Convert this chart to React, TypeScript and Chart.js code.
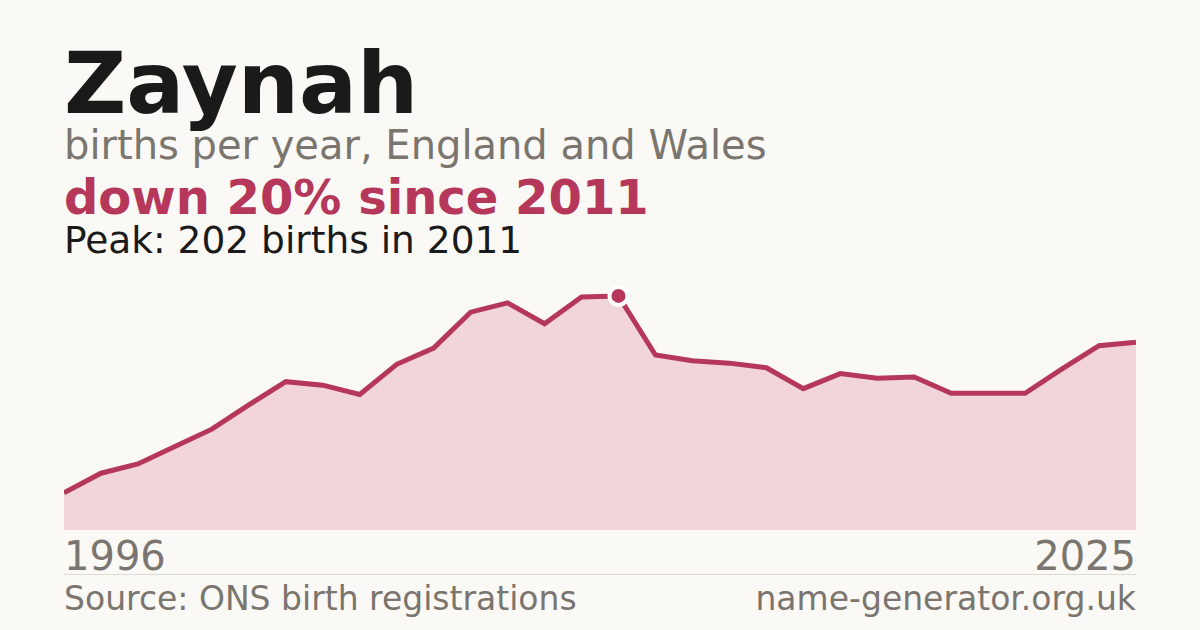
import React, { useEffect, useRef } from 'react'
import { Chart, registerables } from 'chart.js'

Chart.register(...registerables)

const years = ['1996', '1997', '1998', '1999', '2000', '2001', '2002', '2003', '2004', '2005', '2006', '2007', '2008', '2009', '2010', '2011', '2012', '2013', '2014', '2015', '2016', '2017', '2018', '2019', '2020', '2021', '2022', '2023', '2024', '2025']
const births = [32, 49, 57, 72, 87, 108, 128, 125, 117, 143, 157, 188, 196, 178, 201, 202, 151, 146, 144, 140, 122, 135, 131, 132, 118, 118, 118, 139, 159, 162]
const peakIndex = 15

const CRIMSON = '#b5385a'
const FILL = '#f2d5da'
const BG = '#faf9f5'
const GREY = '#7a756e'
const FONT = '"DejaVu Sans", sans-serif'

function AreaChart() {
  const canvasRef = useRef<HTMLCanvasElement>(null)
  const chartRef = useRef<Chart | null>(null)

  useEffect(() => {
    if (!canvasRef.current) return
    chartRef.current?.destroy()
    chartRef.current = new Chart(canvasRef.current, {
      type: 'line',
      data: {
        labels: years,
        datasets: [{
          data: births,
          borderColor: CRIMSON,
          borderWidth: 5,
          backgroundColor: FILL,
          fill: 'origin',
          tension: 0,
          clip: { left: 0, right: 0, top: false, bottom: 0 } as any,
          pointRadius: births.map((_, i) => (i === peakIndex ? 9 : 0)),
          pointBackgroundColor: CRIMSON,
          pointBorderColor: '#ffffff',
          pointBorderWidth: 4,
        }],
      },
      options: {
        animation: false,
        responsive: true,
        maintainAspectRatio: false,
        layout: { padding: 0 },
        plugins: { legend: { display: false }, tooltip: { enabled: false } },
        scales: {
          x: { display: false, offset: false },
          y: { display: false, min: 0, max: 233 },
        },
      },
    })
    return () => chartRef.current?.destroy()
  }, [])

  return (
    <div style={{ position: 'absolute', left: 64, top: 260, width: 1072, height: 270 }}>
      <canvas ref={canvasRef} />
    </div>
  )
}

function Text({ top, left, right, size, color, bold, children }: any) {
  return (
    <div style={{
      position: 'absolute', top, left, right, fontSize: size, lineHeight: 1, color,
      fontWeight: bold ? 'bold' : 'normal', fontFamily: FONT, whiteSpace: 'nowrap',
    }}>{children}</div>
  )
}

export default function App() {
  return (
    <div style={{ position: 'fixed', left: 0, top: 0, width: 1200, height: 630, background: BG, overflow: 'hidden' }}>
      <Text top={40} left={64} size={86} color="#1a1a1a" bold>Zaynah</Text>
      <Text top={125} left={64} size={40} color={GREY}>births per year, England and Wales</Text>
      <Text top={173} left={64} size={48} color={CRIMSON} bold>down 20% since 2011</Text>
      <Text top={222} left={64} size={37.5} color="#1a1a1a">Peak: 202 births in 2011</Text>
      <AreaChart />
      <Text top={536} left={64} size={40} color={GREY}>{years[0]}</Text>
      <Text top={536} right={64} size={40} color={GREY}>{years[years.length - 1]}</Text>
      <div style={{ position: 'absolute', left: 64, top: 574, width: 1072, height: 1, background: '#dddad3' }} />
      <Text top={582} left={64} size={33} color={GREY}>Source: ONS birth registrations</Text>
      <Text top={582} right={64} size={33} color={GREY}>name-generator.org.uk</Text>
    </div>
  )
}
